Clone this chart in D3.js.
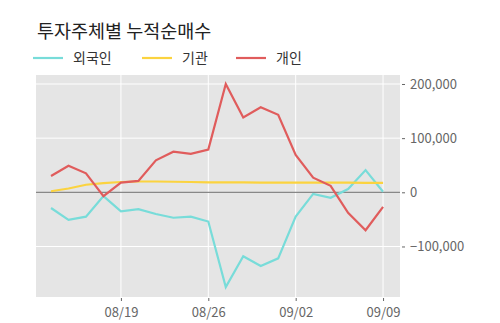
<!DOCTYPE html>
<html>
<head>
<meta charset="utf-8" />
<title>투자주체별 누적순매수</title>
<style>
body { margin: 0; background: #fff; }
svg text { font-family: "Noto Sans CJK KR", "Noto Sans", sans-serif; }
</style>
</head>
<body>
<div id="chart"></div>
<script src="https://d3js.org/d3.v7.min.js"></script>
<script>
(function(d3) {
  'use strict';

  // trading days
  var dates = ['08/12', '08/13', '08/14', '08/16', '08/19', '08/20', '08/21', '08/22', '08/23',
    '08/26', '08/27', '08/28', '08/29', '08/30', '09/02', '09/03', '09/04', '09/05', '09/06', '09/09'];
  var foreign = [-29000, -51000, -45000, -7000, -35000, -31000, -40000, -47000, -45000, -54000,
    -175000, -118000, -136000, -122000, -45000, -3000, -10000, 6000, 41000, 1000];
  var institution = [2000, 7000, 14000, 17000, 19000, 20000, 20000, 19500, 19000, 18500,
    18500, 18500, 18000, 18000, 18000, 18000, 18000, 18000, 17500, 17500];
  var individual = [30000, 49000, 35000, -7000, 18000, 21000, 59000, 75000, 71000, 79000,
    200000, 138000, 157000, 143000, 69000, 27000, 12000, -38000, -70000, -27000];
  var xTickLabels = ['08/19', '08/26', '09/02', '09/09'];
  var yTicks = [-100000, 0, 100000, 200000];

  var series = [
    { name: '외국인', values: foreign, color: '#78dcd9' },
    { name: '기관', values: institution, color: '#fbd33f' },
    { name: '개인', values: individual, color: '#e05c5c' }
  ];

  var width = 500, height = 323;
  var left = 36, right = 400, top = 75, bottom = 297;

  var svg = d3.select('#chart').append('svg')
    .attr('width', width).attr('height', height);

  var x = d3.scaleLinear().domain([-0.86, dates.length - 1 + 0.97]).range([left, right]);
  var y = d3.scaleLinear().domain([-193300, 216600]).range([bottom, top]);

  svg.append('rect')
    .attr('x', left).attr('y', top)
    .attr('width', right - left).attr('height', bottom - top)
    .attr('fill', '#e5e5e5');

  // grid
  var xTickIdx = xTickLabels.map(function(d) { return dates.indexOf(d); });
  svg.append('g').selectAll('line').data(xTickIdx).enter().append('line')
    .attr('x1', function(d) { return x(d); }).attr('x2', function(d) { return x(d); })
    .attr('y1', top).attr('y2', bottom)
    .attr('stroke', '#fff').attr('stroke-width', 1);
  svg.append('g').selectAll('line').data(yTicks.filter(function(d) { return d !== 0; })).enter().append('line')
    .attr('x1', left).attr('x2', right)
    .attr('y1', function(d) { return y(d); }).attr('y2', function(d) { return y(d); })
    .attr('stroke', '#fff').attr('stroke-width', 1);

  // zero line
  svg.append('line')
    .attr('x1', left).attr('x2', right)
    .attr('y1', y(0)).attr('y2', y(0))
    .attr('stroke', '#888').attr('stroke-width', 1.3);

  // axes
  var yAxis = d3.axisRight(y).tickValues(yTicks).tickSize(3).tickPadding(5)
    .tickFormat(d3.format(','));
  var gy = svg.append('g').attr('transform', 'translate(' + (right + 2) + ',0)').call(yAxis);
  gy.select('.domain').remove();
  gy.selectAll('line').attr('stroke', '#666');
  gy.selectAll('text').attr('fill', '#666').style('font-size', '13px');

  var xAxis = d3.axisBottom(x).tickValues(xTickIdx).tickSize(3).tickPadding(7)
    .tickFormat(function(d) { return dates[d]; });
  var gx = svg.append('g').attr('transform', 'translate(0,' + (bottom + 1) + ')').call(xAxis);
  gx.select('.domain').remove();
  gx.selectAll('line').attr('stroke', '#666');
  gx.selectAll('text').attr('fill', '#666').style('font-size', '13px');

  // lines
  var line = d3.line()
    .x(function(d, i) { return x(i); })
    .y(function(d) { return y(d); });

  svg.append('g').selectAll('path').data(series).enter().append('path')
    .attr('d', function(d) { return line(d.values); })
    .attr('fill', 'none')
    .attr('stroke', function(d) { return d.color; })
    .attr('stroke-width', 2.2);

  // title
  svg.append('text')
    .attr('x', 37).attr('y', 38)
    .attr('fill', '#222')
    .style('font-size', '18.5px')
    .text('투자주체별 누적순매수');

  // legend
  var legendX = [33, 142, 236];
  var legend = svg.append('g').selectAll('g').data(series).enter().append('g')
    .attr('transform', function(d, i) { return 'translate(' + legendX[i] + ',58)'; });
  legend.append('line')
    .attr('x1', 0).attr('x2', 30)
    .attr('stroke', function(d) { return d.color; })
    .attr('stroke-width', 2.2);
  legend.append('text')
    .attr('x', 40).attr('y', 5)
    .attr('fill', '#333')
    .style('font-size', '14px')
    .text(function(d) { return d.name; });

})(window.d3);
</script>
</body>
</html>
